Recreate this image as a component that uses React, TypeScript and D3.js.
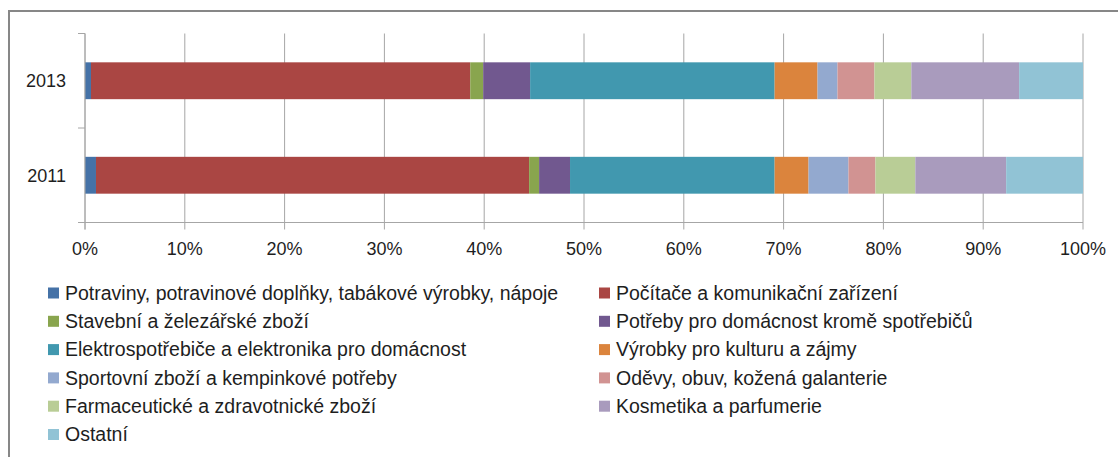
import * as d3 from 'd3'

const years = ['2013', '2011']

const seriesNames = [
  'Potraviny, potravinové doplňky, tabákové výrobky, nápoje',
  'Počítače a komunikační zařízení',
  'Stavební a železářské zboží',
  'Potřeby pro domácnost kromě spotřebičů',
  'Elektrospotřebiče a elektronika pro domácnost',
  'Výrobky pro kulturu a zájmy',
  'Sportovní zboží a kempinkové potřeby',
  'Oděvy, obuv, kožená galanterie',
  'Farmaceutické a zdravotnické zboží',
  'Kosmetika a parfumerie',
  'Ostatní',
]

// shares in %, same order as seriesNames
const values2013 = [0.6, 38.0, 1.3, 4.7, 24.5, 4.3, 2.0, 3.7, 3.7, 10.8, 6.4]
const values2011 = [1.1, 43.4, 1.0, 3.1, 20.5, 3.4, 4.0, 2.7, 4.0, 9.1, 7.7]

const colors = [
  '#4572A7', '#AA4643', '#89A54E', '#71588F', '#4198AF', '#DB843D',
  '#93A9CF', '#D19392', '#B9CD96', '#A99BBD', '#91C3D5',
]

const xTicks = [0, 10, 20, 30, 40, 50, 60, 70, 80, 90, 100]

const W = 1118
const H = 457
const FONT = '"Liberation Sans", Arial, sans-serif'

export default function App() {
  const rows = years.map((yr, i) => {
    const vals = i === 0 ? values2013 : values2011
    const r: any = { year: yr }
    seriesNames.forEach((n, j) => (r[n] = vals[j]))
    return r
  })

  const stack = d3.stack().keys(seriesNames).offset(d3.stackOffsetExpand)
  const layers = stack(rows)

  const x = d3.scaleLinear().domain([0, 1]).range([85, 1083])
  const y = d3.scaleBand().domain(years).range([33.5, 222.5]).paddingInner(0.61).paddingOuter(0.305)
  const top = 33.5
  const bottom = 222.5

  const grid = '#a6a6a6'

  return (
    <svg width={W} height={H} style={{ position: 'fixed', left: 0, top: 0, background: '#fff' }} fontFamily={FONT}>
      <rect x={9} y={11} width={1200} height={600} fill="#fff" stroke="#878787" strokeWidth={2} />

      {/* gridlines + ticks below axis */}
      {xTicks.map(t => (
        <line key={t} x1={x(t / 100)} x2={x(t / 100)} y1={top} y2={bottom + 7} stroke={grid} strokeWidth={1} />
      ))}

      {layers.map((layer, li) => (
        <g key={li} fill={colors[li]}>
          {layer.map((d: any) => (
            <rect
              key={d.data.year}
              x={x(d[0])}
              y={y(d.data.year)}
              width={x(d[1]) - x(d[0])}
              height={y.bandwidth()}
            />
          ))}
        </g>
      ))}

      {/* category axis */}
      <line x1={85} x2={85} y1={top} y2={bottom + 7} stroke={grid} />
      <line x1={78} x2={x(1)} y1={bottom} y2={bottom} stroke={grid} />
      {[top, (top + bottom) / 2].map(v => (
        <line key={v} x1={78} x2={85} y1={v} y2={v} stroke={grid} />
      ))}

      {years.map(yr => (
        <text key={yr} x={66} y={(y(yr) as number) + y.bandwidth() / 2} dy="0.35em" textAnchor="end" fontSize={18} fill="#1e1e1e">
          {yr}
        </text>
      ))}

      {xTicks.map(t => (
        <text key={t} x={x(t / 100)} y={249} dy="0.35em" textAnchor="middle" fontSize={18} fill="#1e1e1e">
          {d3.format('.0%')(t / 100)}
        </text>
      ))}

      {/* legend */}
      {seriesNames.map((n, i) => {
        const col = i % 2
        const row = Math.floor(i / 2)
        const lx = col === 0 ? 48 : 599
        const ly = 293 + row * 28.3
        return (
          <g key={n}>
            <rect x={lx} y={ly - 5.5} width={11} height={11} fill={colors[i]} />
            <text x={lx + 17} y={ly} dy="0.35em" fontSize={19.5} fill="#1e1e1e">
              {n}
            </text>
          </g>
        )
      })}
    </svg>
  )
}
